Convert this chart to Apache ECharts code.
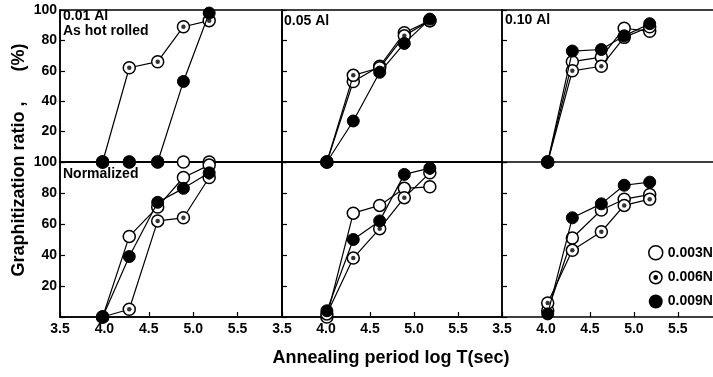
<!DOCTYPE html>
<html>
<head>
<meta charset="utf-8">
<script src="https://cdn.jsdelivr.net/npm/echarts@6/dist/echarts.min.js"></script>
<style>
html,body{margin:0;padding:0;background:#fff;}
#c{width:713px;height:377px;}
</style>
</head>
<body>
<div id="c"></div>
<script>
// ---- data (x = log T(sec), y = graphitization ratio %) ----
const xCol1 = [3.98, 4.28, 4.6, 4.89, 5.18];
const xCol2 = [4.01, 4.31, 4.61, 4.89, 5.18];
const xCol3 = [4.02, 4.3, 4.63, 4.89, 5.18];
const seriesNames = ['0.003N', '0.006N', '0.009N'];
const xTickLabels = ['3.5', '4.0', '4.5', '5.0', '5.5'];
const yTickLabels = ['20', '40', '60', '80', '100'];
const panelTitles = ['0.01 Al', '0.05 Al', '0.10 Al'];

// As hot rolled (top row)
const hot01_003 = [0, 0, 0, 0, 0];
const hot01_006 = [0, 62, 66, 89, 93];
const hot01_009 = [0, 0, 0, 53, 98];
const hot05_003 = [0, 53, 63, 85, 93];
const hot05_006 = [0, 57, 62, 83, 93];
const hot05_009 = [0, 27, 59, 78, 94];
const hot10_003 = [0, 66, 69, 88, 86];
const hot10_006 = [0, 60, 63, 82, 89];
const hot10_009 = [0, 73, 74, 83, 91];
// Normalized (bottom row)
const nor01_003 = [0, 52, 71, 90, 98];
const nor01_006 = [0, 5, 62, 64, 90];
const nor01_009 = [0, 39, 74, 83, 93];
const nor05_003 = [0, 67, 72, 83, 84];
const nor05_006 = [2, 38, 57, 77, 93];
const nor05_009 = [4, 50, 62, 92, 96];
const nor10_003 = [4, 51, 69, 76, 79];
const nor10_006 = [9, 43, 55, 72, 76];
const nor10_009 = [2, 64, 73, 85, 87];

const panels = [
  {x: xCol1, d: [hot01_003, hot01_006, hot01_009]},
  {x: xCol2, d: [hot05_003, hot05_006, hot05_009]},
  {x: xCol3, d: [hot10_003, hot10_006, hot10_009]},
  {x: xCol1, d: [nor01_003, nor01_006, nor01_009]},
  {x: xCol2, d: [nor05_003, nor05_006, nor05_009]},
  {x: xCol3, d: [nor10_003, nor10_006, nor10_009]}
];

const FONT = '"Liberation Sans", Arial, Helvetica, sans-serif';
const chart = echarts.init(document.getElementById('c'), null, {renderer: 'canvas'});

const colLeft = [60, 282, 502];
const colWidth = [222, 220, 211];
const colMax = [6.0, 6.0, 5.9];
const rowTop = [10, 162];
const rowHeight = [152, 155];

const grids = [], xAxes = [], yAxes = [], series = [];
for (let i = 0; i < 6; i++) {
  const r = Math.floor(i / 3), c = i % 3;
  grids.push({left: colLeft[c], top: rowTop[r], width: colWidth[c], height: rowHeight[r],
    outerBoundsMode: 'none',
    show: c !== 2, borderColor: '#000', borderWidth: 1.5, backgroundColor: 'transparent', containLabel: false});
  xAxes.push({type: 'value', gridIndex: i, min: 3.5, max: colMax[c], interval: 0.5,
    axisLine: {show: true, lineStyle: {color: '#000', width: 1.5}},
    axisTick: {show: r === 1, inside: true, length: 5, lineStyle: {color: '#000', width: 1.2}},
    splitLine: {show: false},
    axisLabel: {show: r === 1, margin: 5, color: '#000', fontSize: 14, fontWeight: 'bold', fontFamily: FONT,
      showMaxLabel: false,
      formatter: function (v) { const s = v.toFixed(1); return xTickLabels.indexOf(s) >= 0 ? s : ''; }}
  });
  yAxes.push({type: 'value', gridIndex: i, min: 0, max: 100, interval: 20,
    axisLine: {show: true, lineStyle: {color: '#000', width: 1.5}},
    axisTick: {show: true, inside: true, length: 5, lineStyle: {color: '#000', width: 1.2}},
    splitLine: {show: false},
    axisLabel: {show: c === 0, margin: 3, color: '#000', fontSize: 14, fontWeight: 'bold', fontFamily: FONT,
      formatter: function (v) { const s = String(v); return yTickLabels.indexOf(s) >= 0 ? s : ''; }}
  });
  const p = panels[i];
  const styles = [
    {color: '#fff', borderColor: '#000', borderWidth: 1.5},
    {color: '#fff', borderColor: '#000', borderWidth: 1.5},
    {color: '#000', borderColor: '#000', borderWidth: 1}
  ];
  for (let k = 0; k < 3; k++) {
    const data = p.x.map((xv, j) => [xv, p.d[k][j]]);
    series.push({type: 'line', name: seriesNames[k], xAxisIndex: i, yAxisIndex: i, data: data,
      symbol: 'circle', symbolSize: 12, showSymbol: true, z: 2 + k,
      itemStyle: styles[k], lineStyle: {color: '#000', width: 1.2},
      emphasis: {disabled: true}, silent: true});
    if (k === 1) {
      series.push({type: 'scatter', name: 'dot', xAxisIndex: i, yAxisIndex: i, data: data,
        symbol: 'circle', symbolSize: 4.5, z: 3, itemStyle: {color: '#000'}, silent: true,
        emphasis: {disabled: true}});
    }
  }
}
// top frame line for the right-hand top panel (no right border there)
xAxes.push({type: 'value', gridIndex: 2, position: 'top', min: 3.5, max: colMax[2],
  axisLine: {show: true, onZero: false, lineStyle: {color: '#000', width: 1.5}},
  axisTick: {show: false}, axisLabel: {show: false}, splitLine: {show: false}});

const ringDot = 'path://M10,0 A10,10 0 1,1 9.99,0 Z M10,2.2 A7.8,7.8 0 1,0 10.01,2.2 Z M10,6.6 A3.4,3.4 0 1,1 9.99,6.6 Z';

const option = {
  animation: false,
  backgroundColor: '#fff',
  grid: grids,
  xAxis: xAxes,
  yAxis: yAxes,
  series: series,
  legend: {
    orient: 'vertical', left: 643, top: 240, itemWidth: 14, itemHeight: 14, itemGap: 10,
    selectedMode: false,
    textStyle: {color: '#000', fontSize: 14, fontWeight: 'bold', fontFamily: FONT},
    data: [
      {name: seriesNames[0], icon: 'circle', itemStyle: {color: '#fff', borderColor: '#000', borderWidth: 1.5}},
      {name: seriesNames[1], icon: ringDot, itemStyle: {color: '#000', borderWidth: 0}},
      {name: seriesNames[2], icon: 'circle', itemStyle: {color: '#000', borderWidth: 0}}
    ]
  },
  graphic: [
    {type: 'text', left: 63, top: 9, style: {text: panelTitles[0] + '\nAs hot rolled', fill: '#000', font: 'bold 14px ' + FONT, lineHeight: 15}},
    {type: 'text', left: 284, top: 14, style: {text: panelTitles[1], fill: '#000', font: 'bold 14px ' + FONT}},
    {type: 'text', left: 505, top: 13, style: {text: panelTitles[2], fill: '#000', font: 'bold 14px ' + FONT}},
    {type: 'text', left: 63, top: 167, style: {text: 'Normalized', fill: '#000', font: 'bold 14px ' + FONT}},
    {type: 'text', x: 391, y: 358, style: {text: 'Annealing period log T(sec)', fill: '#000', font: 'bold 18px ' + FONT, align: 'center', verticalAlign: 'middle'}},
    {type: 'text', x: 19, y: 160, rotation: Math.PI / 2, style: {text: 'Graphitization ratio ,      (%)', fill: '#000', font: 'bold 18px ' + FONT, align: 'center', verticalAlign: 'middle'}}
  ]
};
chart.setOption(option);
</script>
</body>
</html>
